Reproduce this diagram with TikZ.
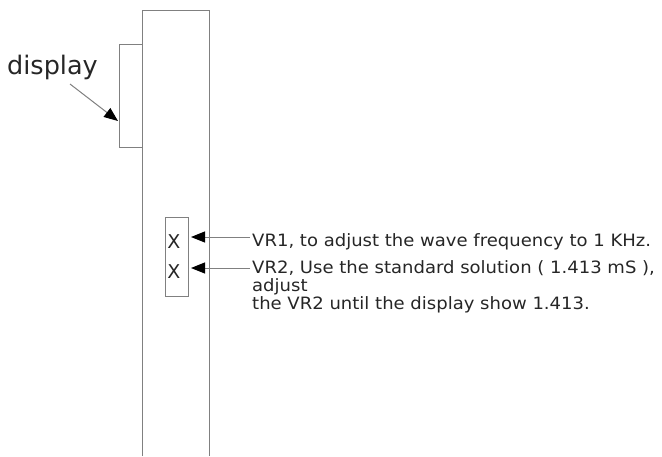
\documentclass[tikz,border=0pt]{standalone}
\usepackage{fontspec}
\setmainfont{DejaVu Sans}
\usetikzlibrary{arrows.meta}
\begin{document}
\begin{tikzpicture}[x=1pt,y=-1pt,
  ln/.style={draw=black!50, line width=1pt},
  arr/.style={draw=black!50, line width=1pt, -{Triangle[length=14pt,width=11pt,fill=black,color=black]}},
  lbl/.style={font=\fontsize{17}{18}\selectfont, text=black!85, anchor=west, inner sep=0pt, align=left}]
\useasboundingbox (0,0) rectangle (662,456);
% main body
\draw[ln] (142,456) -- (142,10) -- (209,10) -- (209,456);
% display
\draw[ln] (142,44) -- (119,44) -- (119,147) -- (142,147);
\node[font=\fontsize{25.5}{27}\selectfont, anchor=west, inner sep=0pt, text=black!85] (disp) at (7,67) {display};
\coordinate (dtail) at (70,84);
\coordinate (dtip) at (118,121);
\draw[arr] (dtail) -- (dtip);
% small box
\draw[ln] (165,217) rectangle (188,296);
\node[font=\fontsize{19}{20}\selectfont, inner sep=0pt, text=black!85] (x1) at (174,242) {X};
\node[font=\fontsize{19}{20}\selectfont, inner sep=0pt, text=black!85] (x2) at (174,272) {X};
% arrows
\coordinate (a1s) at (250,237);
\coordinate (a1t) at (191,237);
\coordinate (a2s) at (250,268);
\coordinate (a2t) at (191,268);
\draw[arr] (a1s) -- (a1t);
\draw[arr] (a2s) -- (a2t);
\node[lbl, anchor=base west] (t1) at (252,246) {\scalebox{1.06}[1]{VR1, to adjust the wave frequency to 1 KHz.}};
\node[lbl, anchor=base west] (t2) at (252,273) {\scalebox{1.06}[1]{VR2, Use the standard solution ( 1.413 mS ),}};
\node[lbl, anchor=base west] (t3) at (252,291) {\scalebox{1.06}[1]{adjust}};
\node[lbl, anchor=base west] (t4) at (252,309) {\scalebox{1.06}[1]{the VR2 until the display show 1.413.}};
\end{tikzpicture}
\end{document}
